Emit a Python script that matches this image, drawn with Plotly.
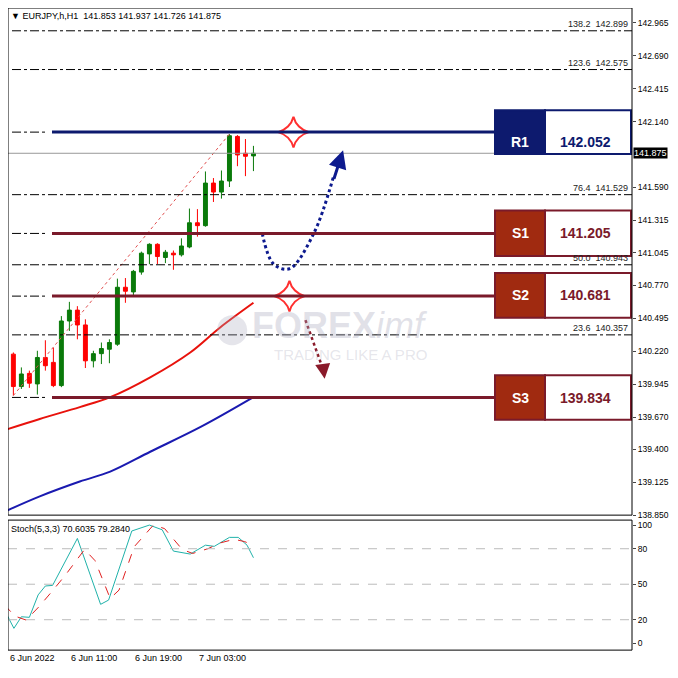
import plotly.graph_objects as go

OFF = 8
W = H = 662
def px(x): return max(0.0, (x - OFF) / W)
def py(y): return min(1.0, max(0.0, 1 - (y - OFF) / H))

# ---- data ----
opens  = [140.196,139.925,140.035,139.947,140.168,140.127,139.933,140.473,140.564,140.44,140.14,140.2,140.237,140.279,140.755,140.716,140.882,141.034,141.114,141.004,141.04,141.026,141.092,141.294,141.27,141.626,141.551,141.643,142.016,141.875,141.853]
highs  = [140.21,140.085,140.058,140.224,140.312,140.25,140.514,140.633,140.597,140.487,140.224,140.293,140.32,140.827,140.832,140.9,141.053,141.123,141.123,141.067,141.062,141.164,141.413,141.408,141.723,141.668,141.731,142.036,142.027,141.994,141.937]
lows   = [139.85,139.905,139.914,139.858,140.058,139.92,139.92,140.39,140.32,140.08,140.085,140.113,140.12,140.265,140.625,140.675,140.86,140.948,140.948,140.957,140.901,141.012,141.081,141.178,141.261,141.468,141.496,141.593,141.767,141.684,141.726]
closes = [139.925,140.03,139.953,140.168,140.099,139.933,140.473,140.564,140.44,140.14,140.2,140.243,140.293,140.755,140.722,140.888,141.04,141.114,141.012,141.048,141.026,141.1,141.294,141.27,141.626,141.551,141.643,142.022,141.861,141.85,141.875]
candle_x = list(range(1, 32))

ma_red_x = [0,4.3,9.3,13.1,18.1,23.1,26.8,31]
ma_red_y = [139.563,139.654,139.753,139.836,140.002,140.21,140.417,140.625]
ma_blue_x = [0,4.3,9.3,13.1,18.1,24.4,31]
ma_blue_y = [138.882,139.007,139.131,139.214,139.38,139.587,139.836]

stoch_main_x = [-0.1,1.07,2.0,3.0,4.1,5.0,5.9,9.0,11.9,12.9,15.8,18,19.6,21,23.1,25,26.1,28,29.1,30.2,31]
stoch_main_y = [28,12.7,22.5,22,41,48.5,49,88.7,33,36.6,95,100,96,78,75.5,83,82,89.6,89.6,83,72.4]
stoch_sig_x = [-0.1,1.2,2.6,4.2,5.8,7.5,9.9,11.2,13.1,14.2,16.1,18.5,19.9,22.1,23.4,25.3,26.9,28.6,29.9,31]
stoch_sig_y = [32.4,23,19.7,31,43.7,57.7,79.4,70,38,45,81.7,100,97,79.4,76,80,85,88,86,83]

levels_names = ["R1","S1","S2","S3"]
levels_vals = [142.052,141.205,140.681,139.834]
fib_names = ["138.2","123.6","76.4","50.0","23.6"]
fib_vals = [142.899,142.575,141.529,140.943,140.357]
price_ticks = [142.965,142.690,142.415,142.140,141.590,141.315,141.045,140.770,140.495,140.220,139.945,139.670,139.400,139.125,138.850]
current_price = 141.875
time_labels = ["6 Jun 2022","6 Jun 11:00","6 Jun 19:00","7 Jun 03:00"]
time_pos = [0,8,16,24]
stoch_ticks = [100,80,50,20,0]

xr = [0.33, 78.3]
def xpx(i):
    return 5.3 + 8 * i

fig = go.Figure()
fig.add_trace(go.Candlestick(x=candle_x, open=opens, high=highs, low=lows, close=closes,
    increasing=dict(line=dict(color="#0a7a0a", width=1), fillcolor="#0a7a0a"),
    decreasing=dict(line=dict(color="#ff0000", width=1), fillcolor="#ff0000"),
    whiskerwidth=0, showlegend=False, xaxis="x", yaxis="y"))
fig.add_trace(go.Scatter(x=ma_red_x, y=ma_red_y, mode="lines", line=dict(color="#e8120c", width=2, shape="spline"), showlegend=False))
fig.add_trace(go.Scatter(x=ma_blue_x, y=ma_blue_y, mode="lines", line=dict(color="#1a1ab0", width=2, shape="spline"), showlegend=False))
fig.add_trace(go.Scatter(x=[1, 28], y=[lows[0], highs[27]], mode="lines", line=dict(color="#e05050", width=1, dash="dot"), showlegend=False))
fig.add_trace(go.Scatter(x=stoch_main_x, y=stoch_main_y, mode="lines", line=dict(color="#20b2aa", width=1), showlegend=False, xaxis="x2", yaxis="y2"))
fig.add_trace(go.Scatter(x=stoch_sig_x, y=stoch_sig_y, mode="lines", line=dict(color="#e02020", width=1, dash="dash"), showlegend=False, xaxis="x2", yaxis="y2"))

shapes = []
ann = []
for n, v in zip(fib_names, fib_vals):
    shapes.append(dict(type="line", xref="paper", yref="y", x0=px(12), x1=px(632), y0=v, y1=v, line=dict(color="black", width=1, dash="dashdot")))
    ann.append(dict(xref="paper", yref="y", x=px(630), y=v, text=f"{n}  {v:.3f}", showarrow=False, xanchor="right", yanchor="bottom", font=dict(size=9, color="#222")))
shapes.append(dict(type="line", xref="paper", yref="y", x0=px(8), x1=px(632), y0=current_price, y1=current_price, line=dict(color="#999", width=1)))
box_rows = [(111,155),(212,258),(275,320),(378,423)]
for i, (n, v) in enumerate(zip(levels_names, levels_vals)):
    dark = "#0d1a6e" if n == "R1" else "#7a1a2a"
    fill = "#0d1a6e" if n == "R1" else "#a02a10"
    shapes.append(dict(type="line", xref="paper", yref="y", x0=px(12), x1=px(48), y0=v, y1=v, line=dict(color="black", width=1, dash="dashdot")))
    shapes.append(dict(type="line", xref="paper", yref="y", x0=px(52), x1=px(495), y0=v, y1=v, line=dict(color=dark, width=3)))
    t, b = box_rows[i]
    shapes.append(dict(type="rect", xref="paper", yref="paper", x0=px(495), x1=px(545), y0=py(b), y1=py(t), fillcolor=fill, line=dict(color=dark, width=2)))
    shapes.append(dict(type="rect", xref="paper", yref="paper", x0=px(545), x1=px(631), y0=py(b), y1=py(t), fillcolor="white", line=dict(color=dark, width=2)))
    ann.append(dict(xref="paper", yref="paper", x=px(520), y=py((t+b)/2), xanchor="center", text=f"<b>{n}</b>", showarrow=False, font=dict(size=14, color="white", family="Arial")))
    ann.append(dict(xref="paper", yref="paper", x=px(558), y=py((t+b)/2), xanchor="left", text=f"<b>{v:.3f}</b>", showarrow=False, font=dict(size=14, color=dark, family="Arial")))

fig.add_trace(go.Scatter(x=[32.1, 33.5, 35.5, 38.5, 41], y=[141.205, 140.95, 140.91, 141.2, 141.68], mode="lines", line=dict(color="#0d1a8e", width=3, dash="dot", shape="spline"), showlegend=False))
ann.append(dict(xref="x", yref="y", x=42.2, y=141.90, ax=41, ay=141.65, axref="x", ayref="y", showarrow=True, arrowhead=2, arrowsize=1.2, arrowwidth=3, arrowcolor="#0d1a8e", text=""))
fig.add_trace(go.Scatter(x=[37.5, 39.8], y=[140.48, 140.05], mode="lines", line=dict(color="#8a1a2a", width=2.5, dash="dot"), showlegend=False))
ann.append(dict(xref="x", yref="y", x=39.9, y=139.99, ax=39.7, ay=140.09, axref="x", ayref="y", showarrow=True, arrowhead=2, arrowsize=1.2, arrowwidth=2.5, arrowcolor="#8a1a2a", text=""))
fig.add_trace(go.Scatter(x=[36, 35.5], y=[142.052, 140.681], mode="markers", marker=dict(symbol="star-diamond", size=22, color="white", line=dict(color="#ff3030", width=2)), showlegend=False))

ann.append(dict(xref="paper", yref="paper", x=px(232), y=py(328), text="●", showarrow=False, font=dict(size=70, color="rgba(170,170,190,0.3)")))
ann.append(dict(xref="paper", yref="paper", x=px(340), y=py(328), text="<b>FOREX</b><i>imf</i>", showarrow=False, font=dict(size=36, color="rgba(170,170,190,0.35)", family="Arial")))
ann.append(dict(xref="paper", yref="paper", x=px(350), y=py(357), text="TRADING LIKE A PRO", showarrow=False, font=dict(size=15, color="rgba(170,170,190,0.3)", family="Arial")))

ann.append(dict(xref="paper", yref="paper", x=px(9), y=py(9), xanchor="left", yanchor="top", text="▼ EURJPY,h,H1  141.853 141.937 141.726 141.875", showarrow=False, font=dict(size=9, color="black", family="Arial")))
ann.append(dict(xref="paper", yref="paper", x=px(9), y=py(526), xanchor="left", yanchor="top", text="Stoch(5,3,3) 70.6035 79.2840", showarrow=False, font=dict(size=9, color="black", family="Arial")))
ann.append(dict(xref="paper", yref="y", x=px(633), y=current_price, xanchor="left", text="141.875", showarrow=False, bgcolor="black", borderpad=0, font=dict(size=9, color="white", family="Arial")))
for lbl, pos in zip(time_labels, time_pos):
    ann.append(dict(xref="paper", yref="paper", x=px(max(xpx(pos), 8)), y=py(656), xanchor="left", yanchor="top", text=lbl, showarrow=False, font=dict(size=9, color="black", family="Arial")))

for v in [80, 50, 20]:
    shapes.append(dict(type="line", xref="paper", yref="y2", x0=px(8), x1=px(632), y0=v, y1=v, line=dict(color="#bbb", width=1, dash="dash")))

shapes.append(dict(type="rect", xref="paper", yref="paper", x0=px(8), x1=px(632), y0=py(519), y1=py(8), line=dict(color="black", width=1)))
shapes.append(dict(type="rect", xref="paper", yref="paper", x0=px(8), x1=px(632), y0=py(655), y1=py(524), line=dict(color="black", width=1)))

fig.update_layout(
    width=W, height=H, margin=dict(l=0, r=0, t=0, b=0),
    paper_bgcolor="white", plot_bgcolor="white",
    shapes=shapes, annotations=ann,
    xaxis=dict(domain=[px(8), px(632)], range=xr, showticklabels=False, showgrid=False, zeroline=False, rangeslider=dict(visible=False), anchor="y"),
    yaxis=dict(domain=[py(519), py(8)], range=[138.85, 142.965 + 15/120.5], side="right", tickvals=price_ticks, ticktext=[f"{t:.3f}" for t in price_ticks],
               ticks="outside", ticklen=3, showgrid=False, zeroline=False, tickfont=dict(size=8.5, family="Arial", color="black"), anchor="x"),
    xaxis2=dict(domain=[px(8), px(632)], range=xr, showticklabels=False, showgrid=False, zeroline=False, anchor="y2"),
    yaxis2=dict(domain=[py(655), py(524)], range=[-5.7, 104.2], side="right", tickvals=stoch_ticks, ticks="outside", ticklen=3,
                showgrid=False, zeroline=False, tickfont=dict(size=8.5, family="Arial", color="black"), anchor="x2"),
    font=dict(family="Arial"),
)
fig.write_html("out.html")
